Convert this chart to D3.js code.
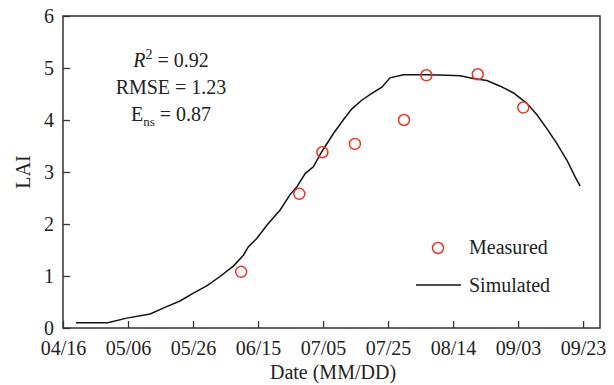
<!DOCTYPE html>
<html>
<head>
<meta charset="utf-8">
<script src="https://cdn.jsdelivr.net/npm/d3@7"></script>
<style>
  body { margin: 0; background: #fff; }
  text { font-family: "Liberation Serif", "Times New Roman", serif; fill: #222; }
</style>
</head>
<body>
<svg id="chart" width="614" height="385"></svg>
<script>
// days counted from 04/16
var tickDays = [0, 20, 40, 60, 80, 100, 120, 140, 160],
    tickLabels = ["04/16", "05/06", "05/26", "06/15", "07/05", "07/25", "08/14", "09/03", "09/23"];

var measDay = [54.8, 72.7, 79.8, 89.8, 104.9, 111.8, 127.6, 141.6],
    measLai = [1.08, 2.58, 3.38, 3.54, 4.00, 4.86, 4.88, 4.24];

var simDay = [4.0, 13.8, 19.6, 26.8, 31.9, 36.0, 40.1, 44.2, 48.3, 52.4, 55.5, 57.0, 59.6, 62.9,
              66.8, 69.8, 71.9, 74.5, 77.0, 79.6, 83.2, 86.2, 88.8, 91.9, 95.0, 98.1, 100.6,
              104.7, 111.9, 118.1, 122.2, 126.2, 130.4, 134.5, 138.6, 142.7, 145.8, 148.8,
              151.9, 155.0, 157.5, 159.1],
    simLai = [0.10, 0.10, 0.19, 0.27, 0.41, 0.52, 0.67, 0.81, 0.99, 1.19, 1.40, 1.56, 1.72, 1.99,
              2.27, 2.56, 2.71, 2.97, 3.10, 3.39, 3.74, 4.00, 4.21, 4.38, 4.51, 4.63, 4.81,
              4.87, 4.87, 4.86, 4.85, 4.80, 4.76, 4.65, 4.52, 4.32, 4.10, 3.84,
              3.55, 3.23, 2.91, 2.73];

var svg = d3.select("#chart"),
    pLeft = 63, pTop = 16, pRight = 600, pBottom = 328,
    x = d3.scaleLinear().domain([0, 165.2]).range([pLeft, pRight]),
    y = d3.scaleLinear().domain([0, 6]).range([pBottom, pTop]),
    red = "#e8352b";

// frame
svg.append("rect")
    .attr("x", pLeft).attr("y", pTop)
    .attr("width", pRight - pLeft).attr("height", pBottom - pTop)
    .attr("fill", "none").attr("stroke", "#333").attr("stroke-width", 1.5);

var xAxis = svg.append("g")
    .attr("transform", "translate(0," + pBottom + ")")
    .call(d3.axisBottom(x).tickValues(tickDays)
        .tickFormat(function (d, i) { return tickLabels[i]; })
        .tickSizeInner(-7).tickSizeOuter(0).tickPadding(13));

var yAxis = svg.append("g")
    .attr("transform", "translate(" + pLeft + ",0)")
    .call(d3.axisLeft(y).ticks(6).tickFormat(d3.format("d"))
        .tickSizeInner(-7).tickSizeOuter(0).tickPadding(9));

[xAxis, yAxis].forEach(function (g) {
  g.select(".domain").remove();
  g.selectAll(".tick line").attr("stroke", "#333").attr("stroke-width", 1.3);
  g.selectAll(".tick text").attr("font-size", 20).attr("font-family", "Liberation Serif").attr("fill", "#222");
});

// simulated line
var sim = simDay.map(function (d, i) { return [d, simLai[i]]; });
svg.append("path")
    .datum(sim)
    .attr("fill", "none")
    .attr("stroke", "#111")
    .attr("stroke-width", 1.5)
    .attr("d", d3.line().x(function (d) { return x(d[0]); }).y(function (d) { return y(d[1]); }));

// measured points
svg.selectAll("circle.meas")
    .data(measDay.map(function (d, i) { return [d, measLai[i]]; }))
    .enter().append("circle")
    .attr("class", "meas")
    .attr("cx", function (d) { return x(d[0]); })
    .attr("cy", function (d) { return y(d[1]); })
    .attr("r", 5.5)
    .attr("fill", "none")
    .attr("stroke", red)
    .attr("stroke-width", 1.5);

// axis titles
svg.append("text")
    .attr("x", 333).attr("y", 379)
    .attr("text-anchor", "middle").attr("font-size", 20)
    .text("Date (MM/DD)");

svg.append("text")
    .attr("transform", "translate(30,172) rotate(-90)")
    .attr("text-anchor", "middle").attr("font-size", 20)
    .text("LAI");

// stats
var r2 = svg.append("text").attr("x", 171).attr("y", 67).attr("text-anchor", "middle").attr("font-size", 20);
r2.append("tspan").attr("font-style", "italic").text("R");
r2.append("tspan").attr("font-size", 14).attr("dy", -8).text("2");
r2.append("tspan").attr("dy", 8).text(" = 0.92");

svg.append("text").attr("x", 171).attr("y", 94).attr("text-anchor", "middle").attr("font-size", 20)
    .text("RMSE = 1.23");

var ens = svg.append("text").attr("x", 171).attr("y", 121).attr("text-anchor", "middle").attr("font-size", 20);
ens.append("tspan").text("E");
ens.append("tspan").attr("font-size", 13).attr("dy", 5).text("ns");
ens.append("tspan").attr("dy", -5).text(" = 0.87");

// legend
svg.append("circle")
    .attr("cx", 438).attr("cy", 248).attr("r", 5.5)
    .attr("fill", "none").attr("stroke", red).attr("stroke-width", 1.5);
svg.append("text").attr("x", 469).attr("y", 254).attr("font-size", 20).text("Measured");

svg.append("line")
    .attr("x1", 416).attr("x2", 461).attr("y1", 285).attr("y2", 285)
    .attr("stroke", "#111").attr("stroke-width", 1.5);
svg.append("text").attr("x", 469).attr("y", 292).attr("font-size", 20).text("Simulated");
</script>
</body>
</html>
